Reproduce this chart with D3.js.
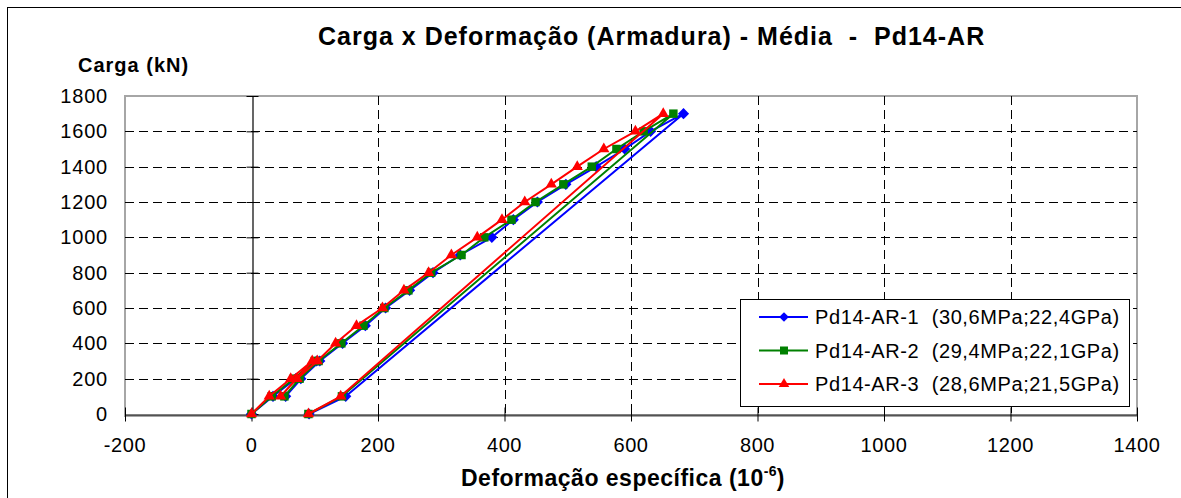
<!DOCTYPE html>
<html>
<head>
<meta charset="utf-8">
<script src="https://cdn.jsdelivr.net/npm/d3@7"></script>
<style>
  html, body { margin: 0; padding: 0; background: #fff; }
  svg { display: block; font-family: Arial, "Liberation Sans", sans-serif; }
  text { white-space: pre; }
</style>
</head>
<body>
<svg id="chart" width="1181" height="498"></svg>
<script>
// Load (kN) sequence shared by all three specimens: loading with a small
// pre-load cycle, loading to 1700 kN, then unloading.
const loads = [0, 100, 200, 300, 100, 200, 300, 400, 500, 600, 700, 800, 900, 1000,
               1100, 1200, 1300, 1400, 1500, 1600, 1700, 100, 0];

// Mean reinforcement strain (10^-6) for each specimen
const strainAR1 = [0, 34, 70, 103, 54, 78, 108, 144, 180, 212, 250, 287, 330, 380,
                   414, 452, 497, 545, 590, 631, 683, 149, 91];
const strainAR2 = [0, 32, 67, 100, 52, 76, 106, 142, 177, 210, 248, 284, 332, 368,
                   411, 449, 493, 538, 577, 620, 667, 143, 90];
const strainAR3 = [0, 28, 62, 96, 46, 72, 104, 133, 166, 207, 241, 280, 316, 357,
                   396, 432, 474, 515, 557, 607, 651, 141, 90];

const seriesNames = ["Pd14-AR-1  (30,6MPa;22,4GPa)",
                     "Pd14-AR-2  (29,4MPa;22,1GPa)",
                     "Pd14-AR-3  (28,6MPa;21,5GPa)"];
const seriesColors = ["#0000ff", "#008000", "#ff0000"];
const seriesMarkers = ["diamond", "square", "triangle"];

const xTicks = [-200, 0, 200, 400, 600, 800, 1000, 1200, 1400];
const yTicks = [0, 200, 400, 600, 800, 1000, 1200, 1400, 1600, 1800];

const titleText = "Carga x Deformação (Armadura) - Média  -  Pd14-AR";
const yTitleText = "Carga (kN)";
const xTitleText = "Deformação específica (10";

const svg = d3.select("#chart");

// outer chart frame
svg.append("rect")
  .attr("x", 7.5).attr("y", 7.5)
  .attr("width", 1300).attr("height", 600)
  .attr("fill", "#fff").attr("stroke", "#000").attr("stroke-width", 1);

const plot = { left: 125, right: 1137, top: 96, bottom: 414 };

const x = d3.scaleLinear().domain([-200, 1400]).range([plot.left, plot.right]);
const y = d3.scaleLinear().domain([0, 1800]).range([plot.bottom, plot.top]);

// plot area frame
svg.append("rect")
  .attr("x", plot.left).attr("y", plot.top)
  .attr("width", plot.right - plot.left).attr("height", plot.bottom - plot.top + 2)
  .attr("fill", "#fff").attr("stroke", "#a6a6a6").attr("stroke-width", 2);

// dashed gridlines
const grid = svg.append("g").attr("stroke", "#000").attr("stroke-width", 1)
  .attr("stroke-dasharray", "9,5");
grid.selectAll("line.h").data(yTicks.filter(v => v > 0 && v < 1800)).join("line")
  .attr("class", "h")
  .attr("x1", plot.left).attr("x2", plot.right)
  .attr("y1", d => Math.round(y(d)) + 0.5).attr("y2", d => Math.round(y(d)) + 0.5);
grid.selectAll("line.v").data(xTicks.filter(v => v > 0 && v < 1400)).join("line")
  .attr("class", "v")
  .attr("y1", plot.top).attr("y2", plot.bottom)
  .attr("x1", d => Math.round(x(d)) + 0.5).attr("x2", d => Math.round(x(d)) + 0.5);

// horizontal axis through load = 0, ticks crossing the line
const xAxis = svg.append("g")
  .attr("transform", `translate(0,${Math.round(y(0)) + 0.5})`)
  .call(d3.axisBottom(x).tickValues(xTicks).tickSize(0).tickFormat(""));
xAxis.select(".domain").attr("stroke", "#000").attr("stroke-width", 1.2);
xAxis.selectAll(".tick line").remove();
xAxis.selectAll(".tick").append("line")
  .attr("y1", -7).attr("y2", 7).attr("stroke", "#000");

// vertical axis through strain = 0
const yAxis = svg.append("g")
  .attr("transform", `translate(${Math.round(x(0)) + 0.5},0)`)
  .call(d3.axisLeft(y).tickValues(yTicks).tickSize(0).tickFormat(""));
yAxis.select(".domain").attr("stroke", "#000").attr("stroke-width", 1.2);
yAxis.selectAll(".tick line").remove();
yAxis.selectAll(".tick").append("line")
  .attr("x1", -6).attr("x2", 6).attr("stroke", "#000");

// tick labels sit outside the plot area
svg.append("g").selectAll("text").data(xTicks).join("text")
  .attr("x", d => x(d)).attr("y", 452)
  .attr("text-anchor", "middle").attr("font-size", 20).attr("letter-spacing", 0.6)
  .attr("fill", "#000")
  .text(d => d);
svg.append("g").selectAll("text").data(yTicks).join("text")
  .attr("x", 108).attr("y", d => y(d) + 7)
  .attr("text-anchor", "end").attr("font-size", 20).attr("letter-spacing", 0.8)
  .attr("fill", "#000")
  .text(d => d);

// series
const symbolFor = {
  diamond: d3.symbol().type(d3.symbolDiamond2).size(80),
  square: d3.symbol().type(d3.symbolSquare).size(72),
  triangle: d3.symbol().type(d3.symbolTriangle2).size(90)
};
const strains = [strainAR1, strainAR2, strainAR3];
const line = d3.line().x(d => x(d[0])).y(d => y(d[1]));

strains.forEach((s, i) => {
  const pts = s.map((v, k) => [v, loads[k]]);
  const g = svg.append("g");
  g.append("path").datum(pts)
    .attr("d", line).attr("fill", "none")
    .attr("stroke", seriesColors[i]).attr("stroke-width", 2)
    .attr("stroke-linejoin", "round");
  g.selectAll("path.m").data(pts).join("path")
    .attr("class", "m")
    .attr("transform", d => `translate(${x(d[0])},${y(d[1])})`)
    .attr("d", symbolFor[seriesMarkers[i]]())
    .attr("fill", seriesColors[i]);
});

// legend
const legend = svg.append("g");
legend.append("rect")
  .attr("x", 740.5).attr("y", 299.5).attr("width", 389).attr("height", 107)
  .attr("fill", "#fff").attr("stroke", "#000").attr("stroke-width", 1);
const legendMarker = {
  diamond: d3.symbol().type(d3.symbolDiamond2).size(60),
  square: d3.symbol().type(d3.symbolSquare).size(64),
  triangle: d3.symbol().type(d3.symbolTriangle2).size(80)
};
seriesNames.forEach((name, i) => {
  const cy = 317 + i * 33.5;
  legend.append("line")
    .attr("x1", 759).attr("x2", 808).attr("y1", cy).attr("y2", cy)
    .attr("stroke", seriesColors[i]).attr("stroke-width", 2);
  legend.append("path")
    .attr("transform", `translate(784,${cy})`)
    .attr("d", legendMarker[seriesMarkers[i]]())
    .attr("fill", seriesColors[i]);
  legend.append("text")
    .attr("x", 815).attr("y", cy + 7)
    .attr("font-size", 20).attr("letter-spacing", 0.6).attr("fill", "#000")
    .text(name);
});

// titles
svg.append("text")
  .attr("x", 318).attr("y", 45)
  .attr("font-size", 25).attr("font-weight", "bold").attr("letter-spacing", 1)
  .attr("fill", "#000")
  .text(titleText);
svg.append("text")
  .attr("x", 78).attr("y", 72)
  .attr("font-size", 20).attr("font-weight", "bold").attr("letter-spacing", 1)
  .attr("fill", "#000")
  .text(yTitleText);
const xt = svg.append("text")
  .attr("x", 461).attr("y", 486)
  .attr("font-size", 23).attr("font-weight", "bold").attr("letter-spacing", 0.5)
  .attr("fill", "#000");
xt.append("tspan").text(xTitleText);
xt.append("tspan").attr("font-size", 14).attr("letter-spacing", 0.3).attr("dy", -10).text("-6");
xt.append("tspan").attr("dy", 10).text(")");
</script>
</body>
</html>
